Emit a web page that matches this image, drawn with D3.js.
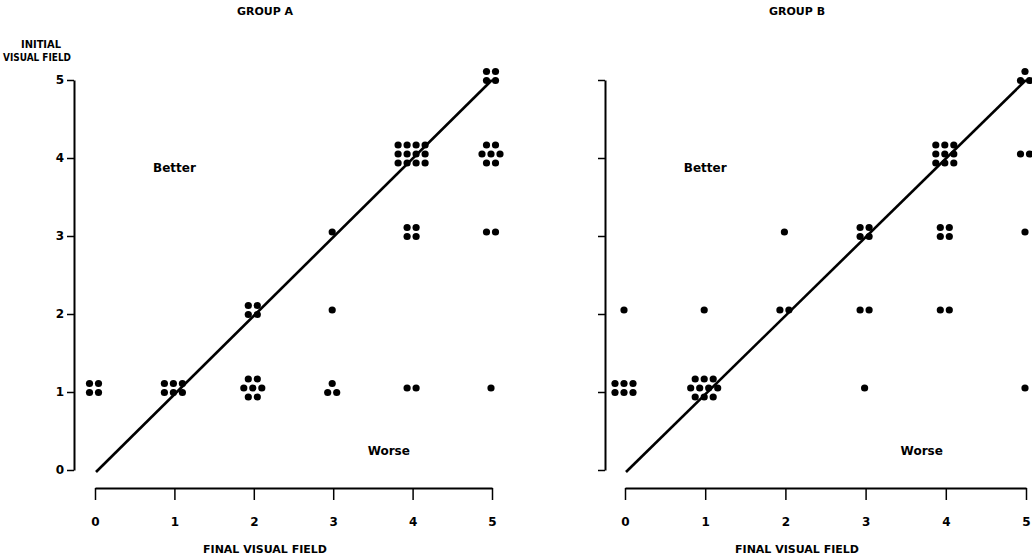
<!DOCTYPE html>
<html>
<head>
<meta charset="utf-8">
<script src="https://cdn.jsdelivr.net/npm/d3@7"></script>
<style>
  html, body { margin: 0; padding: 0; background: #fff; }
  svg text { font-family: "DejaVu Sans", Arial, sans-serif; font-weight: bold; fill: #000; }
</style>
</head>
<body>
<svg id="chart" width="1032" height="559"></svg>
<script>
// ---- data ----
const groups = ["GROUP A", "GROUP B"];
const tickValues = [0, 1, 2, 3, 4, 5];
const tickLabels = ["0", "1", "2", "3", "4", "5"];
const xTitle = "FINAL VISUAL FIELD";
const yTitle = ["INITIAL", "VISUAL FIELD"];

// Group A: final field, initial field, number of patients
const aFinal   = [0, 1, 2, 3, 4, 5, 2, 3, 3, 4, 5, 4, 5, 5];
const aInitial = [1, 1, 1, 1, 1, 1, 2, 2, 3, 3, 3, 4, 4, 5];
const aCount   = [4, 6, 7, 3, 2, 1, 4, 1, 1, 4, 2, 12, 7, 4];

// Group B
const bFinal   = [0, 1, 3, 5, 0, 1, 2, 3, 4, 2, 3, 4, 5, 4, 5, 5];
const bInitial = [1, 1, 1, 1, 2, 2, 2, 2, 2, 3, 3, 3, 3, 4, 4, 5];
const bCount   = [6, 10, 1, 1, 1, 1, 2, 2, 2, 1, 4, 4, 1, 9, 2, 3];

const svg = d3.select("#chart");
const FONT = "DejaVu Sans, Arial, sans-serif";

// arrangement of n dots around a cluster centre (in dot-spacing units)
function pattern(n) {
  const rows = {
    1: [1], 2: [2], 3: [1, 2], 4: [2, 2], 6: [3, 3], 7: [2, 3, 2],
    9: [3, 3, 3], 10: [3, 4, 3], 12: [4, 4, 4]
  }[n] || [n];
  const pts = [];
  const nr = rows.length;
  rows.forEach((c, r) => {
    for (let i = 0; i < c; i++) {
      pts.push([i - (c - 1) / 2, r - (nr - 1) / 2]);
    }
  });
  return pts;
}

function drawPanel(cfg) {
  const g = svg.append("g");
  const x = d3.scaleLinear().domain([0, 5]).range([cfg.x0, cfg.x1]);
  const y = d3.scaleLinear().domain([0, 5]).range([470, 80]);

  // title
  g.append("text").attr("x", cfg.titleX).attr("y", 15)
    .attr("text-anchor", "middle").style("font-size", "11px").text(cfg.title);

  // y axis
  const yAxis = d3.axisLeft(y).tickValues(tickValues).tickSize(7).tickSizeOuter(0)
    .tickFormat(cfg.yLabels ? (d, i) => tickLabels[i] : "").tickPadding(3);
  const ya = g.append("g").attr("transform", `translate(${cfg.yAxisX},0)`).call(yAxis);
  ya.select(".domain").attr("stroke-width", 2);
  ya.selectAll(".tick line").attr("stroke-width", 1.5);
  ya.selectAll("text").style("font-size", "12px").style("font-family", FONT)
    .style("font-weight", "bold");

  // x axis
  const xAxis = d3.axisBottom(x).tickValues(tickValues).tickSize(12).tickSizeOuter(0)
    .tickFormat((d, i) => tickLabels[i]).tickPadding(17);
  const xa = g.append("g").attr("transform", "translate(0,488)").call(xAxis);
  xa.select(".domain").attr("stroke-width", 2);
  xa.selectAll(".tick line").attr("stroke-width", 1.5);
  xa.selectAll("text").style("font-size", "12px").style("font-family", FONT)
    .style("font-weight", "bold");

  // identity line
  g.append("line")
    .attr("x1", x(0) + 1).attr("y1", y(0) + 2)
    .attr("x2", x(5)).attr("y2", y(5))
    .attr("stroke", "#000").attr("stroke-width", 2.6);

  // dots
  const step = 9;
  const dots = [];
  cfg.final.forEach((f, i) => {
    pattern(cfg.count[i]).forEach(p => {
      dots.push({ cx: x(f) + p[0] * step - 1, cy: y(cfg.initial[i]) + p[1] * step - 4 });
    });
  });
  g.selectAll("circle.dot").data(dots).join("circle")
    .attr("class", "dot").attr("cx", d => d.cx).attr("cy", d => d.cy)
    .attr("r", 3.6).attr("fill", "#000");

  // region labels
  g.append("text").attr("x", x(1)).attr("y", y(4) + 14)
    .attr("text-anchor", "middle").style("font-size", "12px").text("Better");
  g.append("text").attr("x", x(3.7)).attr("y", y(0.25) + 4)
    .attr("text-anchor", "middle").style("font-size", "12px").text("Worse");

  // x title
  g.append("text").attr("x", cfg.titleX).attr("y", 553)
    .attr("text-anchor", "middle").style("font-size", "11px").text(xTitle);
}

drawPanel({ title: groups[0], titleX: 265, x0: 95, x1: 492, yAxisX: 74, yLabels: true,
  final: aFinal, initial: aInitial, count: aCount });
drawPanel({ title: groups[1], titleX: 797, x0: 625, x1: 1026, yAxisX: 605, yLabels: false,
  final: bFinal, initial: bInitial, count: bCount });

// y title (group A)
svg.append("text").attr("x", 21).attr("y", 48).attr("text-anchor", "start")
  .attr("textLength", 40).attr("lengthAdjust", "spacingAndGlyphs")
  .style("font-size", "11px").text(yTitle[0]);
svg.append("text").attr("x", 3).attr("y", 61).attr("text-anchor", "start")
  .attr("textLength", 68).attr("lengthAdjust", "spacingAndGlyphs")
  .style("font-size", "11px").text(yTitle[1]);
</script>
</body>
</html>
